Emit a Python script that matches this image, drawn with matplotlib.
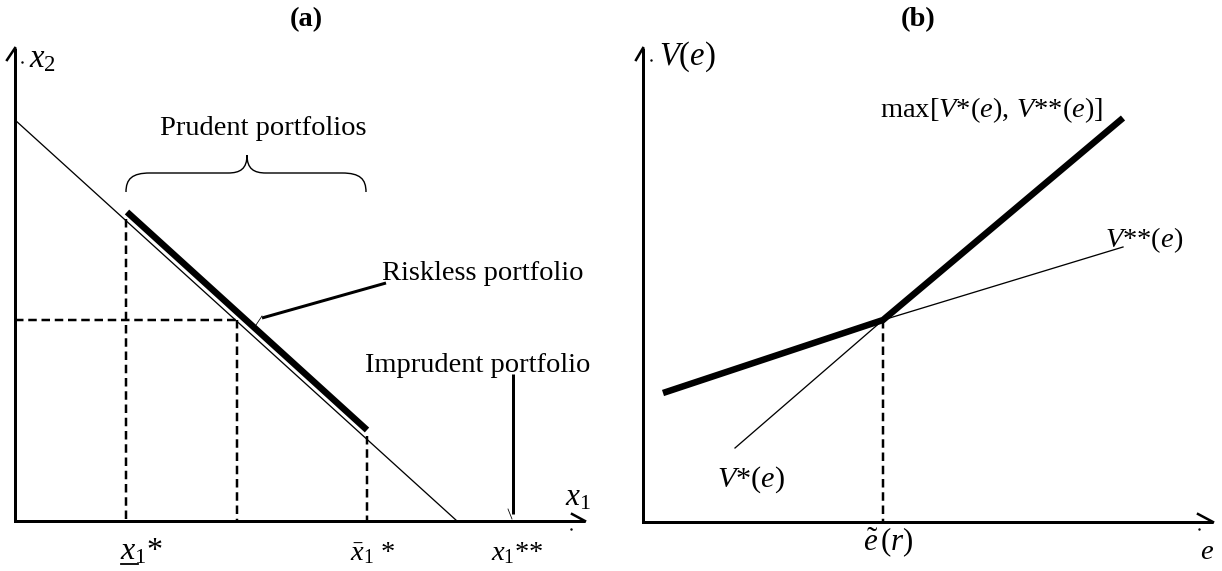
import matplotlib
matplotlib.use("Agg")
import matplotlib.pyplot as plt
from matplotlib.path import Path
from matplotlib.patches import PathPatch

plt.rcParams['font.family'] = ['Liberation Serif', 'DejaVu Serif']
plt.rcParams['mathtext.fontset'] = 'custom'
plt.rcParams['mathtext.rm'] = 'Liberation Serif'
plt.rcParams['mathtext.it'] = 'Liberation Serif:italic'
plt.rcParams['mathtext.bf'] = 'Liberation Serif:bold'

# ---------------- data (diagram coordinates) ----------------
titles = ["(a)", "(b)"]
title_x = [306, 918]

# panel (a)
axisA_x = [15, 15, 585]
axisA_y = [48, 521, 521]
budget_x = [15, 457]
budget_y = [120, 521]
prudent_x = [127, 367]
prudent_y = [212, 430]
dashA_vx = [126, 237, 367]
dashA_vtop = [219, 320, 436]
dashA_h_y = [320, 320]
dashA_h_x = [15, 237]
riskless_ptr_x = [386, 262]
riskless_ptr_y = [283, 318]
imprudent_x = [513, 513]
imprudent_y = [374, 514]
brace_left, brace_right, brace_y, brace_bottom, brace_tip = 126, 366, 173, 192, 155

# panel (b)
axisB_x = [643, 643, 1213]
axisB_y = [48, 522, 522]
max_x = [663, 883, 1123]
max_y = [393, 320, 118]
vstar_x = [735, 883]
vstar_y = [448, 320]
vss_x = [883, 1123]
vss_y = [320, 247]
e_tilde = 883

fs = 20.5
fig = plt.figure(figsize=(12.22, 5.71), dpi=100)
ax = fig.add_axes([0, 0, 1, 1])
ax.set_xlim(0, 1222)
ax.set_ylim(571, 0)
ax.axis('off')

px = 0.72  # points per pixel at dpi 100
K = 'black'
dash = (3.4, 1.9)

# titles
for t, x in zip(titles, title_x):
    ax.text(x, 20, t, fontsize=fs, fontweight='bold', ha='center', va='center')

# ---- panel (a) ----
ax.plot(axisA_x, axisA_y, color=K, lw=3 * px, solid_joinstyle='miter', solid_capstyle='butt')
ax.plot([7, 15], [60, 48], color=K, lw=2.5 * px)            # arrow hook (y)
ax.plot([572, 585], [514, 521], color=K, lw=2.5 * px)       # arrow hook (x)
ax.plot([22], [62], marker='.', ms=1.5, color=K)
ax.plot([571], [529], marker='.', ms=1.5, color=K)
ax.plot(budget_x, budget_y, color=K, lw=1.3 * px)
ax.plot(prudent_x, prudent_y, color=K, lw=6.5 * px, solid_capstyle='butt')
for x, top in zip(dashA_vx, dashA_vtop):
    ax.plot([x, x], [top, 521], color=K, lw=2.5 * px, dashes=dash)
ax.plot(dashA_h_x, dashA_h_y, color=K, lw=2.5 * px, dashes=dash)
ax.plot(riskless_ptr_x, riskless_ptr_y, color=K, lw=3 * px, solid_capstyle='butt')
ax.plot([256, 262], [325, 316], color=K, lw=0.8 * px)
ax.plot(imprudent_x, imprudent_y, color=K, lw=3 * px, solid_capstyle='butt')
ax.plot([508, 512], [509, 519], color=K, lw=0.8 * px)

# brace
L, R, y0, yb, tip = brace_left, brace_right, brace_y, brace_bottom, brace_tip
mid = (L + R) / 2 + 1
verts = [(L, yb), (L, y0 + 6), (L + 6, y0), (L + 24, y0),
         (mid - 19, y0),
         (mid - 7, y0), (mid, y0 - 4), (mid, tip),
         (mid, y0 - 4), (mid + 7, y0), (mid + 19, y0),
         (R - 24, y0),
         (R - 6, y0), (R, y0 + 6), (R, yb)]
codes = [Path.MOVETO, Path.CURVE4, Path.CURVE4, Path.CURVE4,
         Path.LINETO,
         Path.CURVE4, Path.CURVE4, Path.CURVE4,
         Path.CURVE4, Path.CURVE4, Path.CURVE4,
         Path.LINETO,
         Path.CURVE4, Path.CURVE4, Path.CURVE4]
ax.add_patch(PathPatch(Path(verts, codes), fill=False, lw=1.4 * px, ec=K))

ax.text(160, 135, "Prudent portfolios", fontsize=fs, ha='left', va='baseline')
ax.text(382, 280, "Riskless portfolio", fontsize=fs, ha='left', va='baseline')
ax.text(365, 372, "Imprudent portfolio", fontsize=fs, ha='left', va='baseline')
ax.text(29, 67, r"$x_2$", fontsize=23.5, ha='left', va='baseline')
ax.text(565, 506, r"$x_1$", fontsize=22.5, ha='left', va='baseline')
ax.text(120, 560, r"$x_1$*", fontsize=23, ha='left', va='baseline')
ax.plot([121, 138], [564, 564], color=K, lw=1.8 * px)
ax.text(350, 560, r"$\bar{x}_1$ *", fontsize=fs, ha='left', va='baseline')
ax.text(491, 560, r"$x_1$**", fontsize=fs, ha='left', va='baseline')

# ---- panel (b) ----
ax.plot(axisB_x, axisB_y, color=K, lw=3 * px, solid_joinstyle='miter', solid_capstyle='butt')
ax.plot([636, 643], [60, 48], color=K, lw=2.5 * px)
ax.plot([1198, 1213], [514, 522], color=K, lw=2.5 * px)
ax.plot([651], [60], marker='.', ms=1.5, color=K)
ax.plot([1199], [529], marker='.', ms=1.5, color=K)
ax.plot(vstar_x, vstar_y, color=K, lw=1.3 * px)
ax.plot(vss_x, vss_y, color=K, lw=1.3 * px)
ax.plot(max_x, max_y, color=K, lw=6.5 * px, solid_capstyle='butt', solid_joinstyle='miter')
ax.plot([e_tilde, e_tilde], [max_y[1], axisB_y[1]], color=K, lw=2.5 * px, dashes=dash)

ax.text(659, 65, r"$V(e)$", fontsize=23.5, ha='left', va='baseline')
ax.text(880, 117, r"max[$V$*($e$), $V$**($e$)]", fontsize=fs, ha='left', va='baseline')
ax.text(1105, 247, r"$V$**($e$)", fontsize=fs, ha='left', va='baseline')
ax.text(717, 487, r"$V$*($e$)", fontsize=21.8, ha='left', va='baseline')
ax.text(863, 550, r"$\tilde{e}\,(r)$", fontsize=22.3, ha='left', va='baseline')
ax.text(1200, 559, r"$e$", fontsize=fs, ha='left', va='baseline')

fig.savefig("out.png", dpi=100)
